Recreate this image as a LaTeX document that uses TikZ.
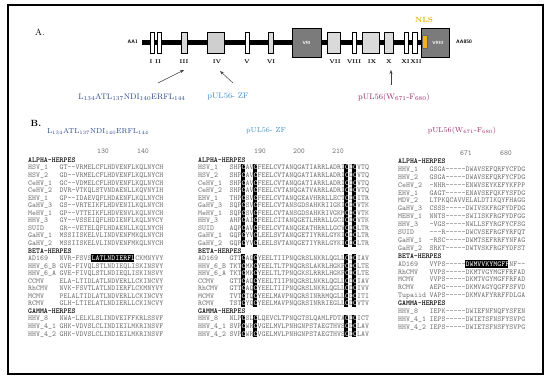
\documentclass[tikz,border=0pt]{standalone}
\usepackage{fontspec}
\usetikzlibrary{arrows.meta}
\definecolor{seqgray}{HTML}{707070}
\definecolor{lblue}{HTML}{3C8FCB}
\definecolor{dblue}{HTML}{2E4A8E}
\definecolor{purp}{HTML}{9B2C6B}
\definecolor{nlsgold}{HTML}{F2B21B}
\definecolor{boxlight}{HTML}{DADADA}
\definecolor{boxmid}{HTML}{CFCFCF}
\definecolor{vrgray}{HTML}{7B7B7B}
\newcommand\wc{\textcolor{white}{C}}
\newcommand\wt[1]{\textcolor{white}{#1}}
\newcommand\seqsize{\fontsize{7.5}{7.5}\selectfont\ttfamily}
\begin{document}
\begin{tikzpicture}[x=1pt,y=-1pt,
  seq/.style={anchor=base west,inner sep=0pt,font=\seqsize,text=seqgray},
  hdr/.style={anchor=base west,inner sep=0pt,font=\seqsize\bfseries,text=black},
  posnum/.style={anchor=base,inner sep=0pt,font=\seqsize,text=seqgray},
  dombox/.style={draw=black,line width=0.4pt,minimum height=21pt,inner sep=0pt},
  vrbox/.style={draw=black,line width=0.4pt,fill=vrgray,minimum height=29pt,inner sep=0pt},
  vrtext/.style={text=white,font=\sffamily\bfseries\fontsize{4.5}{4.5}\selectfont,inner sep=0pt},
  rnum/.style={font=\fontsize{5.5}{5.5}\selectfont\bfseries,inner sep=0pt},
  aalab/.style={font=\sffamily\bfseries\fontsize{5}{5}\selectfont,inner sep=0pt},
  arr/.style={-{Stealth[length=4pt,width=3pt]},line width=0.5pt,draw=black!75},
  toplab/.style={font=\fontsize{8}{8}\selectfont,inner sep=0pt},
  sublab/.style={font=\fontsize{7.2}{7.2}\selectfont,inner sep=0pt}
]
\useasboundingbox (0,0) rectangle (550,381);
\fill[white] (0,0) rectangle (550,381);
% frame
\draw[line width=2pt] (8,5) rectangle (543,374);

% ---------------- Part A ----------------
\node[font=\fontsize{9}{9}\selectfont,inner sep=0pt] (partA) at (40,32) {A.};
\node[aalab,anchor=east] (aa1) at (138,42) {AA1};
\node[aalab,anchor=west] (aa850) at (456,42) {AA850};
\coordinate (barS) at (142,42);
\coordinate (barE) at (422,42);
\draw[line width=5pt] (barS) -- (barE);

\node[dombox,fill=white,minimum width=4pt] (dI) at (152,42.5) {};
\node[dombox,fill=white,minimum width=4pt] (dII) at (159,42.5) {};
\node[dombox,fill=boxlight,minimum width=6pt] (dIII) at (184,42.5) {};
\node[dombox,fill=boxmid,minimum width=17pt] (dIV) at (215.5,42.5) {};
\node[dombox,fill=white,minimum width=4pt] (dV) at (247,42.5) {};
\node[dombox,fill=boxlight,minimum width=5pt] (dVI) at (270.5,42.5) {};
\node[vrbox,minimum width=29pt] (dVRI) at (306.5,42.5) {};
\node[vrtext] (tVRI) at (306.5,42.5) {VRI};
\node[dombox,fill=boxlight,minimum width=13pt] (dVII) at (333.5,42.5) {};
\node[dombox,fill=white,minimum width=4pt] (dVIII) at (354,42.5) {};
\node[dombox,fill=boxlight,minimum width=17pt] (dIX) at (370.5,42.5) {};
\node[dombox,fill=boxlight,minimum width=9pt] (dX) at (388.5,42.5) {};
\node[dombox,fill=white,minimum width=4pt] (dXI) at (406,42.5) {};
\node[dombox,fill=white,minimum width=5pt] (dXII) at (414.5,42.5) {};
\node[vrbox,minimum width=28pt] (dVRIII) at (435,42.5) {};
\node[vrtext] (tVRIII) at (438,42.5) {VRIII};
\node[draw=black!60,line width=0.3pt,fill=nlsgold,minimum width=5pt,minimum height=13pt,inner sep=0pt] (nlsbox) at (424.5,41.5) {};
\node[font=\fontsize{7.5}{7.5}\selectfont\bfseries,text=nlsgold,inner sep=0pt] (nls) at (424,20) {NLS};

\node[rnum] (nI) at (151,62) {I};
\node[rnum] (nII) at (158,62) {II};
\node[rnum] (nIII) at (184,62) {III};
\node[rnum] (nIV) at (217,62) {IV};
\node[rnum] (nV) at (247,62) {V};
\node[rnum] (nVI) at (271,62) {VI};
\node[rnum] (nVII) at (335,62) {VII};
\node[rnum] (nVIII) at (354,62) {VIII};
\node[rnum] (nIX) at (372,62) {IX};
\node[rnum] (nX) at (389,62) {X};
\node[rnum] (nXI) at (405.5,62) {XI};
\node[rnum] (nXII) at (416,62) {XII};

\node[toplab,text=dblue] (labA1) at (132,97) {L\textsubscript{134}ATL\textsubscript{137}NDI\textsubscript{140}ERFL\textsubscript{144}};
\node[toplab,text=lblue] (labA2) at (228,97) {pUL56- ZF};
\node[toplab,text=purp] (labA3) at (394,97) {pUL56(W\textsubscript{671}-F\textsubscript{680})};

\coordinate (a1s) at (158,83);
\coordinate (a1t) at (184,70);
\coordinate (a2s) at (233,83);
\coordinate (a2t) at (220,71);
\coordinate (a3s) at (391,85);
\coordinate (a3t) at (391,70);
\draw[arr] (a1s) -- (a1t);
\draw[arr] (a2s) -- (a2t);
\draw[arr] (a3s) -- (a3t);

% ---------------- Part B ----------------
\node[font=\fontsize{9}{9}\selectfont\bfseries,inner sep=0pt] (partB) at (36,123) {B.};
\node[sublab,text=dblue] (labB1) at (98,131) {L\textsubscript{134}ATL\textsubscript{137}NDI\textsubscript{140}ERFL\textsubscript{144}};
\node[sublab,text=lblue] (labB2) at (266,131) {pUL56- ZF};
\node[sublab,text=purp] (labB3) at (462,131) {pUL56(W\textsubscript{671}-F\textsubscript{680})};

\node[posnum] (p130) at (103,153) {130};
\node[posnum] (p140) at (143,153) {140};
\node[posnum] (p190) at (260,153) {190};
\node[posnum] (p200) at (299,153) {200};
\node[posnum] (p210) at (338,153) {210};
\node[posnum] (p671) at (466,155) {671};
\node[posnum] (p680) at (506,155) {680};

% highlight blocks (drawn first)
% middle columns: indices 3,6,29,31 ; left/middle rows y0=160, dy=7.55
\foreach \i in {3,6,29,31}{
  \fill[black] ({229.5+\i*3.9375},{160+0.5*7.55}) rectangle ({229.5+(\i+1)*3.9375},{160+11.5*7.55});
  \fill[black] ({229.5+\i*3.9375},{160+12.5*7.55}) rectangle ({229.5+(\i+1)*3.9375},{160+19.5*7.55});
  \fill[black] ({229.5+\i*3.9375},{160+20.5*7.55}) rectangle ({229.5+(\i+1)*3.9375},{160+23.5*7.55});
}
\fill[black] ({59.5+8*3.9375},{160+12.5*7.55}) rectangle ({59.5+19*3.9375},{160+13.5*7.55});
\fill[black] ({429.5+9*3.9375},{161+12.5*7.9}) rectangle ({429.5+20*3.9375},{161+13.5*7.9});

% ---- left column ----
\node[hdr] (lhA) at (28,162.4) {ALPHA-HERPES};
\node[hdr] (lhB) at (28,{162.4+12*7.55}) {BETA-HERPES};
\node[hdr] (lhG) at (28,{162.4+20*7.55}) {GAMMA-HERPES};
\foreach \n/\s [count=\k] in {
 HSV\_1/GT--VRMELCFLHDVENFLKQLNYCH,
 HSV\_2/GD--VRMELCFLHDVENFLKQLNYCH,
 CeHV\_1/GC--VDMELCFLHDVENFLKQLNYCH,
 CeHV\_2/DVR-VTKQLSTVNDAENLLKQVNYIH,
 EHV\_1/GP--IDAEVQFLHDAENFLKQLNYCH,
 GaHV\_3/GS--VRTEIKFLHDVENILKQLNYCH,
 MeHV\_1/GP--VTTEIKFLHDVENVLKQLNYCH,
 HHV\_3/GY--VSSEIQFLHDIENFLKQLNYCY,
 SUID/GR--VETELQFLHDAENLLKQLNYCH,
 GaHV\_1/MSSIISKELVLINDVENFMKQLNYCH,
 GaHV\_2/MSSIISKELVLINDVENFMKQLNYCH}{
  \node[seq] (lan\k) at (28,{162.4+\k*7.55}) {\n};
  \node[seq] (las\k) at (59.5,{162.4+\k*7.55}) {\s};
}
\foreach \n/\s [count=\k] in {
 AD169/NVR-FSVS\wt{LATLNDIERFL}CKMNYVY,
 HHV\_6\_B/GVE-FIVQLSTLNDIEQLISKINSVY,
 HHV\_6\_A/GVE-FIVQLSTLNDIEQLISKINSVY,
 CCMV/ELA-LTIDLATLNDVERLLCKINCVY,
 RhCMV/NVK-FSVTLATLNDIERFLCKMNYVY,
 MCMV/PELALTIDLATLNDVERLLCKINCVY,
 RCMV/GLH-LTIELATLNDIERLLCKINCVY}{
  \node[seq] (lbn\k) at (28,{162.4+(\k+12)*7.55}) {\n};
  \node[seq] (lbs\k) at (59.5,{162.4+(\k+12)*7.55}) {\s};
}
\foreach \n/\s [count=\k] in {
 HHV\_8/NWA-LELKLSLINDVEIFFKRLSSVF,
 HHV\_4\_1/GHK-VDVSLCLINDIEILMKRINSVF,
 HHV\_4\_2/GHK-VDVSLCLINDIEILMKRINSVF}{
  \node[seq] (lgn\k) at (28,{162.4+(\k+20)*7.55}) {\n};
  \node[seq] (lgs\k) at (59.5,{162.4+(\k+20)*7.55}) {\s};
}

% ---- middle column ----
\node[hdr] (mhA) at (198,162.4) {ALPHA-HERPES};
\node[hdr] (mhB) at (198,{162.4+12*7.55}) {BETA-HERPES};
\node[hdr] (mhG) at (198,{162.4+20*7.55}) {GAMMA-HERPES};
\foreach \n/\s [count=\k] in {
 HSV\_1/SHP\wc AV\wc FEELCVTANQGATIARRLADRI\wc D\wc VTQ,
 HSV\_2/SHP\wc AV\wc FEELCVTANQGATIARRLADRI\wc D\wc VTQ,
 CeHV\_1/SHP\wc AV\wc FEELCVTANQGATIARRLADRI\wc D\wc VTQ,
 CeHV\_2/SHP\wc AV\wc FEELCVTANQGATVARRLADRI\wc D\wc VTQ,
 EHV\_1/THP\wc SV\wc FEELCVTANQGEAVHRRLLECT\wc D\wc ITR,
 GaHV\_3/SQP\wc SV\wc FEELCVTANSGDSAHKRIIGKI\wc D\wc VTK,
 MeHV\_1/SQP\wc SV\wc FEELCVTANSGDSAHKRIVGKM\wc D\wc VTK,
 HHV\_3/AHP\wc AI\wc FEELCITANQGETLHRRLLGCI\wc D\wc VTK,
 SUID/AQP\wc AV\wc FEELCVTANQGEATHRRLLGCV\wc D\wc LTR,
 GaHV\_1/GQP\wc YV\wc LEELSVTANQGETIYRRLGYKI\wc D\wc LTR,
 GaHV\_2/GQP\wc YV\wc LEELSVTANQGETIYRRLGYKI\wc D\wc LTR}{
  \node[seq] (man\k) at (198,{162.4+\k*7.55}) {\n};
  \node[seq] (mas\k) at (229.5,{162.4+\k*7.55}) {\s};
}
\foreach \n/\s [count=\k] in {
 AD169/GTT\wc AQ\wc YEELTIIPNQGRSLNKRLQGLL\wc D\wc IAV,
 HHV\_6\_B/TKT\wc MK\wc YEELTLTPNQGRSLAKRLHGKP\wc D\wc LTE,
 HHV\_6\_A/TKT\wc MK\wc YEELTLTPNQGKSLRRRLHGKP\wc D\wc LTE,
 CCMV/GTT\wc AQ\wc YEELTIIPNQGRSLNKRLQGLL\wc D\wc IAV,
 RhCMV/GTT\wc AQ\wc YEELTIIPNQGRSLNKRLQGLL\wc D\wc IVV,
 MCMV/TVT\wc TQ\wc YEELMAVPNQGRSINRRMQGLL\wc D\wc ITI,
 RCMV/TST\wc YQ\wc YEELMAVPNQGRSINRRIEGLL\wc D\wc VTV}{
  \node[seq] (mbn\k) at (198,{162.4+(\k+12)*7.55}) {\n};
  \node[seq] (mbs\k) at (229.5,{162.4+(\k+12)*7.55}) {\s};
}
\foreach \n/\s [count=\k] in {
 HHV\_8/NLP\wc SL\wc LQEVCLTPNQGTSLQAMLFDTA\wc D\wc ICT,
 HHV\_4\_1/SVP\wc WR\wc VGELMVLPNHGNPSTAEGTHVS\wc D\wc LAV,
 HHV\_4\_2/SVP\wc WR\wc VGELMVLPNHGNPSTAEGTHVS\wc D\wc LAV}{
  \node[seq] (mgn\k) at (198,{162.4+(\k+20)*7.55}) {\n};
  \node[seq] (mgs\k) at (229.5,{162.4+(\k+20)*7.55}) {\s};
}

% ---- right column ----
\node[hdr] (rhA) at (398,163.4) {ALPHA-HERPES};
\node[hdr] (rhB) at (398,{163.4+12*7.9}) {BETA-HERPES};
\node[hdr] (rhG) at (398,{163.4+18*7.9}) {GAMMA-HERPES};
\foreach \n/\s [count=\k] in {
 HHV\_1/GSGA-----DWAVSEFQRFYCFDG,
 HHV\_2/GSGA-----DWAVSEFQRFYCFDG,
 CeHV\_2/-NHR-----ENWVSEYKEFYKFPP,
 EHV\_1/GAGT-----ENAVSEFQKFYSFDG,
 MDV\_2/LTPKQCAVVELALDTIKQYFHAGG,
 GaHV\_3/CSSS-----DWIVSKFRGFYDFDG,
 MEHV\_1/NNTS-----SWIISKFRGFYDFGG,
 HHV\_3/-VGS-----NWLLSFYRGFYCFSG,
 SUID/---R-----DWCVSEFRGFYRFQT,
 GaHV\_1/-RSC-----DWMTSEFRRFYNFAG,
 GaHV\_2/SRKT-----DWTVSKFRGFYDFST}{
  \node[seq] (ran\k) at (398,{163.4+\k*7.9}) {\n};
  \node[seq] (ras\k) at (429.5,{163.4+\k*7.9}) {\s};
}
\foreach \n/\s [count=\k] in {
 AD169/VYPS-----\wt{DWMVVKYMGFF}NF--,
 RhCMV/VVPS-----DKMTVGYMGFFRFAD,
 MCMV/VVPS-----DKMTVGYMGFFRFAD,
 RCMV/AEPG-----DKMVAGYQGFFSFVD,
 Tupaiid/VAPS-----DKMVAFYRRFFDLGA}{
  \node[seq] (rbn\k) at (398,{163.4+(\k+12)*7.9}) {\n};
  \node[seq] (rbs\k) at (429.5,{163.4+(\k+12)*7.9}) {\s};
}
\foreach \n/\s [count=\k] in {
 HHV\_8/IEPK-----DWIEFNFNQFYSFEN,
 HHV\_4\_1/IEPS-----DWIETSFNSFYSVPG,
 HHV\_4\_2/IEPS-----DWIETSFNSFYSVPG}{
  \node[seq] (rgn\k) at (398,{163.4+(\k+18)*7.9}) {\n};
  \node[seq] (rgs\k) at (429.5,{163.4+(\k+18)*7.9}) {\s};
}
\end{tikzpicture}
\end{document}
